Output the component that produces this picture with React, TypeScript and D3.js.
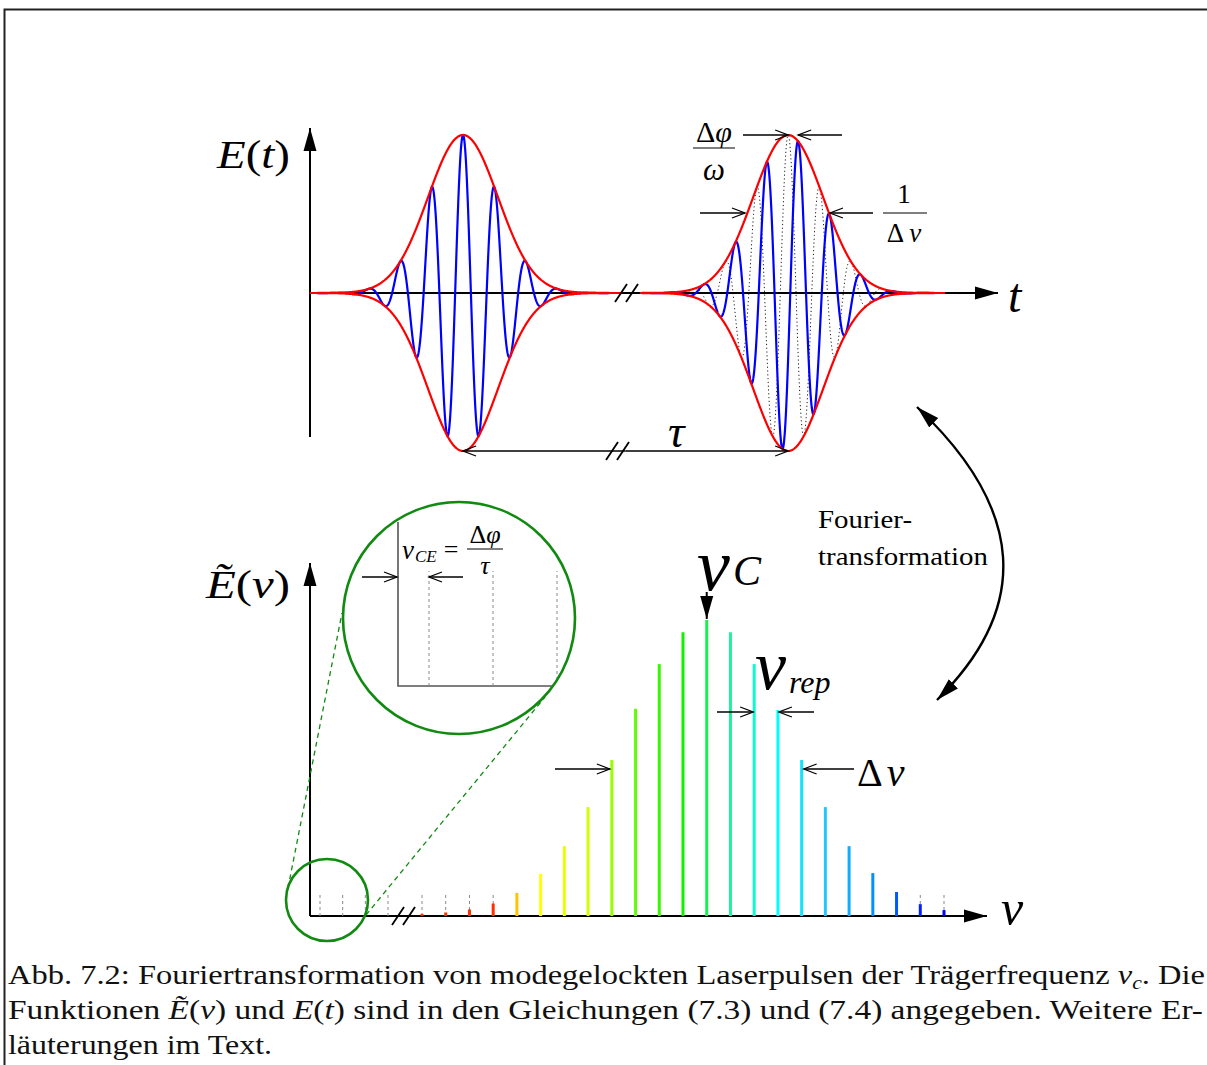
import React from "react";
import * as d3 from "d3";

const W = 1207;
const H = 1065;
const SERIF = "'Liberation Serif', 'Times New Roman', serif";

// ---- top panel: two pulses, time measured in carrier periods ----
const PULSE_CENTERS = [0, 10.32];
const PULSE_SIGMA = 1.11;
const CE_SHIFTS = [0, 0.317]; // carrier-envelope offset of each pulse, in periods
const PULSE_SPANS = [
  [-4.86, 5.0],
  [5.62, 15.3],
];

// ---- bottom panel: frequency comb ----
const MODE_AMPS = [
  0.007, 0.012, 0.022, 0.042, 0.078, 0.142, 0.236, 0.368, 0.527, 0.7, 0.851, 0.959,
  1.0, 0.959, 0.851, 0.696, 0.527, 0.368, 0.236, 0.145, 0.081, 0.04, 0.02,
];
const LOW_MODES = [1, 2, 3, 4];
const REF_MODES = [0, 1, 2, 3, 21, 22];
const INSET_MODES = [1, 2, 3];

const CAPTION = [
  "Abb. 7.2: Fouriertransformation von modegelockten Laserpulsen der Trägerfrequenz ",
  "Funktionen ",
  "läuterungen im Text.",
];

const xT = d3.scaleLinear().domain([-4.857, 16.98]).range([310, 998]);
const yT = d3.scaleLinear().domain([-1, 1]).range([451, 135]);
const xF = d3.scaleLinear().domain([0, 22]).range([422, 944]);
const xLow = d3.scaleLinear().domain([1, 4]).range([320, 388]);
const yF = d3.scaleLinear().domain([0, 1]).range([916, 620]);
const xIn = d3.scaleLinear().domain([0, 3]).range([398, 590]);
const modeColor = d3
  .scaleLinear<string>()
  .domain([0, 3, 4, 5, 7, 9, 11, 13, 15, 17, 19, 21, 22])
  .range([
    "#ff2a00", "#ff3000", "#ffc400", "#ffff00", "#d0ff00", "#60ff00", "#10f000",
    "#20f0a0", "#00ffff", "#20c8ff", "#0090ff", "#0020ff", "#0000ff",
  ])
  .interpolate(d3.interpolateRgb);

const env = (t: number, c: number) => Math.exp(-((t - c) ** 2) / (2 * PULSE_SIGMA ** 2));
const field = (t: number, c: number, s: number) => env(t, c) * Math.cos(2 * Math.PI * (t - c - s));

const line = d3
  .line<number[]>()
  .x((d) => xT(d[0]))
  .y((d) => yT(d[1]))
  .curve(d3.curveLinear);

const Slashes = ({ x, y }: { x: number; y: number }) => (
  <g stroke="#000" strokeWidth={1.8}>
    <line x1={x - 6} y1={y + 9} x2={x + 6} y2={y - 9} />
    <line x1={x + 5} y1={y + 9} x2={x + 17} y2={y - 9} />
  </g>
);

export default function App() {
  const samples = PULSE_SPANS.map(([a, b]) => d3.range(a, b, 0.01).concat([b]));
  const dimArrow = { stroke: "#000", strokeWidth: 1.3, markerEnd: "url(#open)" };
  return (
    <svg
      width={W}
      height={H}
      style={{ position: "absolute", left: 0, top: 0, background: "#fff" }}
      fontFamily={SERIF}
    >
      <defs>
        <marker id="filled" viewBox="0 -8 24 16" refX={23} refY={0} markerWidth={24} markerHeight={16}
          markerUnits="userSpaceOnUse" orient="auto-start-reverse">
          <path d="M0,-6.5 L23,0 L0,6.5 Z" fill="#000" />
        </marker>
        <marker id="open" viewBox="-1 -7 16 14" refX={13} refY={0} markerWidth={16} markerHeight={14}
          markerUnits="userSpaceOnUse" orient="auto-start-reverse">
          <path d="M0,-5 L13,0 L0,5" fill="none" stroke="#000" strokeWidth={1.3} />
        </marker>
        <clipPath id="insetClip">
          <circle cx={459} cy={618} r={115} />
        </clipPath>
      </defs>

      {/* frame */}
      <path d={`M4.5,${H} L4.5,9.5 L${W},9.5`} fill="none" stroke="#222" strokeWidth={2} />

      {/* ===== top panel ===== */}
      <line x1={310} y1={437} x2={310} y2={128} stroke="#000" strokeWidth={2} markerEnd="url(#filled)" />
      <line x1={310} y1={293} x2={998} y2={293} stroke="#000" strokeWidth={2} markerEnd="url(#filled)" />

      {/* unshifted carrier (dotted) under second pulse */}
      <path
        d={line(samples[1].map((t) => [t, field(t, PULSE_CENTERS[1], 0)])) || ""}
        fill="none" stroke="#000" strokeWidth={0.9} strokeDasharray="1.2,2.6"
      />
      {PULSE_CENTERS.map((c, i) => (
        <path key={`c${i}`}
          d={line(samples[i].map((t) => [t, field(t, c, CE_SHIFTS[i])])) || ""}
          fill="none" stroke="#0000ff" strokeWidth={2.2}
        />
      ))}
      {PULSE_CENTERS.map((c, i) =>
        [1, -1].map((sgn) => (
          <path key={`e${i}${sgn}`}
            d={line(samples[i].map((t) => [t, sgn * env(t, c)])) || ""}
            fill="none" stroke="#ff0000" strokeWidth={2.2}
          />
        ))
      )}
      <Slashes x={621} y={293} />

      {/* tau arrow */}
      <line x1={(xT(0) + xT(PULSE_CENTERS[1])) / 2} y1={451} x2={xT(0)} y2={451} {...dimArrow} />
      <line x1={(xT(0) + xT(PULSE_CENTERS[1])) / 2} y1={451} x2={xT(PULSE_CENTERS[1])} y2={451} {...dimArrow} />
      <Slashes x={612} y={451} />
      <text x={668} y={447} fontSize={46} fontStyle="italic">τ</text>

      {/* Δφ/ω arrows */}
      <line x1={743} y1={135} x2={xT(PULSE_CENTERS[1])} y2={135} {...dimArrow} />
      <line x1={842} y1={135} x2={xT(PULSE_CENTERS[1] + CE_SHIFTS[1])} y2={135} {...dimArrow} />
      <text x={714} y={142} fontSize={30} textAnchor="middle">
        Δ<tspan fontStyle="italic">φ</tspan>
      </text>
      <line x1={693} y1={148} x2={735} y2={148} stroke="#000" strokeWidth={1.2} />
      <text x={714} y={180} fontSize={31} fontStyle="italic" textAnchor="middle">ω</text>

      {/* 1/Δν arrows (FWHM) */}
      <line x1={700} y1={213} x2={745} y2={213} {...dimArrow} />
      <line x1={873} y1={213} x2={830} y2={213} {...dimArrow} />
      <text x={904} y={203} fontSize={27} textAnchor="middle">1</text>
      <line x1={883} y1={213} x2={927} y2={213} stroke="#000" strokeWidth={1.2} />
      <text x={904} y={242} fontSize={27} textAnchor="middle">
        Δ <tspan fontStyle="italic">ν</tspan>
      </text>

      <text x={217} y={168} fontSize={40} textLength={73} lengthAdjust="spacingAndGlyphs">
        <tspan fontStyle="italic">E</tspan>(<tspan fontStyle="italic">t</tspan>)
      </text>
      <text x={1008} y={312} fontSize={48} fontStyle="italic">t</text>

      {/* Fourier arrow */}
      <path d="M917,407 Q1079,560 937,700" fill="none" stroke="#000" strokeWidth={2.4}
        markerStart="url(#filled)" markerEnd="url(#filled)" />
      <text x={818} y={528} fontSize={26} textLength={94} lengthAdjust="spacingAndGlyphs">Fourier-</text>
      <text x={818} y={565} fontSize={26} textLength={170} lengthAdjust="spacingAndGlyphs">transformation</text>

      {/* ===== bottom panel ===== */}
      <line x1={310} y1={916} x2={310} y2={563} stroke="#000" strokeWidth={2} markerEnd="url(#filled)" />
      <line x1={310} y1={916} x2={987} y2={916} stroke="#000" strokeWidth={2} markerEnd="url(#filled)" />
      <Slashes x={398} y={916} />

      {LOW_MODES.map((m) => (
        <line key={`l${m}`} x1={xLow(m)} x2={xLow(m)} y1={916} y2={895}
          stroke="#888" strokeWidth={1} strokeDasharray="3,3" />
      ))}
      {REF_MODES.map((m) => (
        <line key={`r${m}`} x1={xF(m)} x2={xF(m)} y1={916} y2={895}
          stroke="#888" strokeWidth={1} strokeDasharray="3,3" />
      ))}
      {MODE_AMPS.map((a, i) => (
        <line key={`m${i}`} x1={xF(i)} x2={xF(i)} y1={916} y2={yF(a)}
          stroke={modeColor(i)} strokeWidth={3} />
      ))}

      {/* nu_C */}
      <line x1={xF(12)} y1={592} x2={xF(12)} y2={619} stroke="#000" strokeWidth={2} markerEnd="url(#filled)" />
      <text x={697} y={590} fontSize={74} fontStyle="italic">ν</text>
      <text x={733} y={585} fontSize={42} fontStyle="italic">C</text>

      {/* nu_rep */}
      <line x1={717} y1={712} x2={xF(14) - 1} y2={712} {...dimArrow} />
      <line x1={814} y1={712} x2={xF(15) + 1} y2={712} {...dimArrow} />
      <text x={755} y={689} fontSize={70} fontStyle="italic">ν</text>
      <text x={789} y={693} fontSize={32} fontStyle="italic">rep</text>

      {/* delta nu */}
      <line x1={555} y1={769} x2={xF(8) - 2} y2={769} {...dimArrow} />
      <line x1={854} y1={769} x2={xF(16) + 2} y2={769} {...dimArrow} />
      <text x={857} y={786} fontSize={40}>
        Δ<tspan fontStyle="italic" dx={4}>ν</tspan>
      </text>

      <text x={206} y={598} fontSize={40} textLength={84} lengthAdjust="spacingAndGlyphs">
        <tspan fontStyle="italic">Ẽ</tspan>(<tspan fontStyle="italic">ν</tspan>)
      </text>
      <text x={1001} y={925} fontSize={50} fontStyle="italic">ν</text>

      {/* magnifier */}
      <g stroke="#118a11" fill="none">
        <line x1={288} y1={888} x2={342} y2={613} strokeWidth={1.3} strokeDasharray="5,4" />
        <line x1={366} y1={915} x2={545} y2={697} strokeWidth={1.3} strokeDasharray="5,4" />
        <circle cx={327} cy={900} r={41} strokeWidth={2.6} />
      </g>
      <g clipPath="url(#insetClip)">
        <rect x={340} y={500} width={240} height={240} fill="#fff" />
        <path d="M398,522 L398,686 L600,686" fill="none" stroke="#555" strokeWidth={1.6} />
        {INSET_MODES.map((m) => (
          <line key={`i${m}`} x1={xIn(m) - 33} x2={xIn(m) - 33} y1={686} y2={571}
            stroke="#888" strokeWidth={1} strokeDasharray="3,3" />
        ))}
      </g>
      <circle cx={459} cy={618} r={116} fill="none" stroke="#118a11" strokeWidth={2.6} />
      <line x1={362} y1={577} x2={397} y2={577} {...dimArrow} />
      <line x1={463} y1={577} x2={xIn(1) - 33} y2={577} {...dimArrow} />
      <text x={402} y={559} fontSize={27} fontStyle="italic">ν</text>
      <text x={415} y={562} fontSize={17} fontStyle="italic">CE</text>
      <text x={451} y={558} fontSize={26} textAnchor="middle">=</text>
      <text x={485} y={543} fontSize={26} textAnchor="middle">
        Δ<tspan fontStyle="italic">φ</tspan>
      </text>
      <line x1={467} y1={549} x2={503} y2={549} stroke="#555" strokeWidth={1.3} />
      <text x={485} y={574} fontSize={26} fontStyle="italic" textAnchor="middle">τ</text>

      {/* caption */}
      <g fontSize={27} fill="#111">
        <text x={8} y={984} textLength={1197} lengthAdjust="spacingAndGlyphs">
          {CAPTION[0]}
          <tspan fontStyle="italic">ν</tspan>
          <tspan fontSize={18} fontStyle="italic" dy={5}>c</tspan>
          <tspan dy={-5}>. Die</tspan>
        </text>
        <text x={8} y={1019} textLength={1195} lengthAdjust="spacingAndGlyphs">
          {CAPTION[1]}
          <tspan fontStyle="italic">Ẽ</tspan>(<tspan fontStyle="italic">ν</tspan>) und{" "}
          <tspan fontStyle="italic">E</tspan>(<tspan fontStyle="italic">t</tspan>) sind in den Gleichungen (7.3) und (7.4) angegeben. Weitere Er-
        </text>
        <text x={8} y={1054} textLength={264} lengthAdjust="spacingAndGlyphs">{CAPTION[2]}</text>
      </g>
    </svg>
  );
}
